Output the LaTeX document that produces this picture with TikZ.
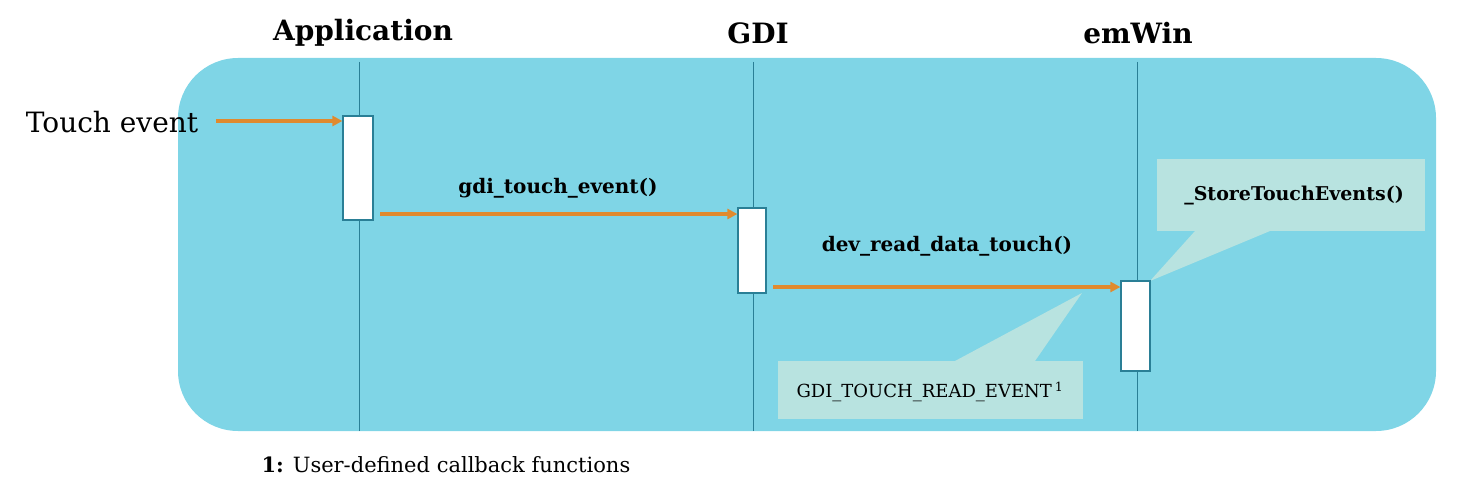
\documentclass[tikz,border=0pt]{standalone}
\usepackage{fontspec}
\setmainfont{DejaVu Serif}
\usetikzlibrary{arrows.meta}
\definecolor{bg}{HTML}{7FD5E6}
\definecolor{call}{HTML}{B8E3E0}
\definecolor{arr}{HTML}{E08A2E}
\definecolor{line}{HTML}{2A7F96}
\begin{document}
\begin{tikzpicture}[x=1pt,y=-1pt,
  act/.style={draw=line,fill=white,line width=1.2pt},
  msg/.style={draw=arr,line width=3.5pt,-{Triangle[length=10pt,width=10pt]}},
  life/.style={draw=line,line width=0.5pt},
  hdr/.style={font=\bfseries\fontsize{28}{32}\selectfont},
  lbl/.style={font=\bfseries\fontsize{20}{24}\selectfont}]
\useasboundingbox (0,0) rectangle (1460,495);
\fill[bg,rounded corners=60pt] (178,58) rectangle (1436,431);
\draw[life] (359,62) -- (359,431);
\draw[life] (753,62) -- (753,431);
\draw[life] (1137,62) -- (1137,431);
\node[hdr] (h1) at (363,33) {Application};
\node[hdr] (h2) at (758,33) {GDI};
\node[hdr] (h3) at (1138,33) {emWin};
% callouts
\fill[call] (1157,159) rectangle (1425,231);
\fill[call] (1150,281) -- (1195,231) -- (1270,231) -- cycle;
\node[lbl,font=\bfseries\fontsize{19}{22}\selectfont] (c1) at (1294,196) {\_StoreTouchEvents()};
\fill[call] (778,361) rectangle (1083,419);
\fill[call] (1082,293) -- (955,361) -- (1035,361) -- cycle;
\node[font=\fontsize{18}{21}\selectfont] (c2) at (930,392) {GDI\_TOUCH\_READ\_EVENT\,\textsuperscript{1}};
% activations
\node[act,minimum width=30pt,minimum height=104pt,inner sep=0] (b1) at (358,168) {};
\node[act,minimum width=28pt,minimum height=85pt,inner sep=0] (b2) at (752,250.5) {};
\node[act,minimum width=29pt,minimum height=90pt,inner sep=0] (b3) at (1135.5,326) {};
\node[font=\fontsize{28}{32}\selectfont] (te) at (112,122) {Touch event};
\coordinate (t0) at (216,121);
\draw[msg] (t0) -- (b1.west|-t0);
\coordinate (m1) at (380,214);
\draw[msg] (m1) -- (b2.west|-m1);
\node[lbl] (l1) at (558,188) {gdi\_touch\_event()};
\coordinate (m2) at (773,287);
\draw[msg] (m2) -- (b3.west|-m2);
\node[lbl] (l2) at (947,246) {dev\_read\_data\_touch()};
\node[anchor=west,font=\fontsize{21}{25}\selectfont] (fn) at (258,465) {\textbf{1:} User-defined callback functions};
\end{tikzpicture}
\end{document}
